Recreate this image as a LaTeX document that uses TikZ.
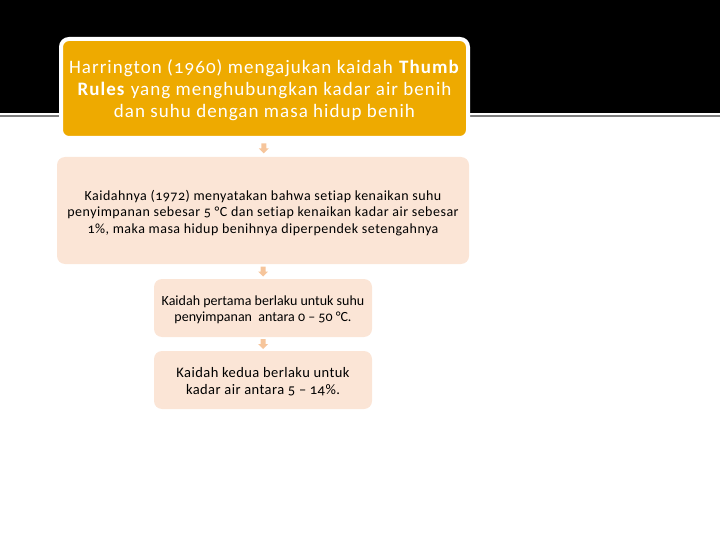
\documentclass[tikz,border=0pt]{standalone}
\usepackage{fontspec}
\setmainfont{Carlito}[Numbers=OldStyle,Ligatures=NoCommon]
\begin{document}
\begin{tikzpicture}[x=1pt,y=-1pt,
  topbox/.style={draw=white,line width=4pt,fill=boxorange,rounded corners=8pt,inner sep=0pt},
  softbox/.style={fill=boxpeach,rounded corners=8pt,inner sep=0pt},
  boxtext/.style={align=center,inner sep=0pt},
  downarrow/.style={fill=arrowpeach,draw=none}]
\definecolor{boxorange}{HTML}{EEAA00}
\definecolor{boxpeach}{HTML}{FBE5D6}
\definecolor{arrowpeach}{HTML}{F6C59B}
\definecolor{rulegray}{HTML}{7F7F7F}
\useasboundingbox (0,0) rectangle (720,540);
\fill[black] (0,0) rectangle (720,113);
\draw[rulegray,line width=1.6pt] (0,116) -- (720,116);
\node[topbox,minimum width=407pt,minimum height=99pt] (b1) at (264.5,88.5) {};
\node[boxtext,text=white,font=\fontsize{19}{22}\selectfont\addfontfeature{LetterSpace=5.5}] (t1) at ([yshift=-2pt]b1.center)
 {Harrington (1960) mengajukan kaidah \textbf{Thumb}\\ \textbf{Rules} yang menghubungkan kadar air benih\\ dan suhu dengan masa hidup benih};
\node[softbox,minimum width=412pt,minimum height=107pt] (b2) at (263,210.5) {};
\node[boxtext,font=\fontsize{14}{16.5}\selectfont\addfontfeature{LetterSpace=3.5}] (t2) at ([yshift=-2.5pt]b2.center)
 {Kaidahnya (1972) menyatakan bahwa setiap kenaikan suhu\\ penyimpanan sebesar 5 °C dan setiap kenaikan kadar air sebesar\\ 1\%, maka masa hidup benihnya diperpendek setengahnya};
\node[softbox,minimum width=218pt,minimum height=58pt] (b3) at (263,308) {};
\node[boxtext,font=\fontsize{14}{16}\selectfont] (t3) at ([yshift=-2pt]b3.center)
 {Kaidah pertama berlaku untuk suhu\\ penyimpanan\ \ antara 0 -- 50 °C.};
\node[softbox,minimum width=218pt,minimum height=58pt] (b4) at (263,380) {};
\node[boxtext,font=\fontsize{14.5}{17}\selectfont\addfontfeature{LetterSpace=3}] (t4) at ([yshift=-2pt]b4.center)
 {Kaidah kedua berlaku untuk\\ kadar air antara 5 -- 14\%.};
\foreach \a/\b in {b1/b2,b2/b3,b3/b4}{
  \path (\a.south) -- (\b.north) coordinate[pos=0.5] (m\a);
  \fill[downarrow] ([shift={(-2.5,-5)}]m\a) -- ([shift={(2.5,-5)}]m\a) -- ([shift={(2.5,0)}]m\a) -- ([shift={(5,0)}]m\a) -- ([shift={(0,5)}]m\a) -- ([shift={(-5,0)}]m\a) -- ([shift={(-2.5,0)}]m\a) -- cycle;
}
\end{tikzpicture}
\end{document}
